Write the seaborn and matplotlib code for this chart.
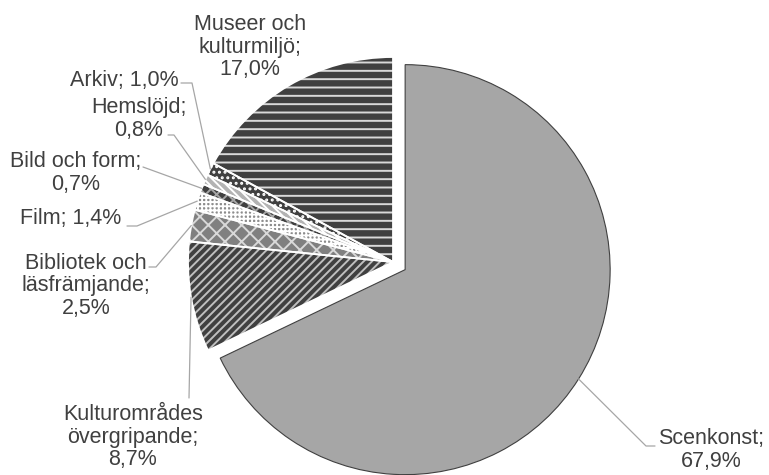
import numpy as np
import matplotlib
matplotlib.use("Agg")
import matplotlib.pyplot as plt
import matplotlib.patches as mpatches
import seaborn as sns

# data (shares in percent, clockwise from 12 o'clock)
categories = ["Scenkonst", "Kulturområdes\növergripande", "Bibliotek och\nläsfrämjande",
              "Film", "Bild och form", "Hemslöjd", "Arkiv", "Museer och\nkulturmiljö"]
shares = [67.9, 8.7, 2.5, 1.4, 0.7, 0.8, 1.0, 17.0]
value_labels = ["67,9%", "8,7%", "2,5%", "1,4%", "0,7%", "0,8%", "1,0%", "17,0%"]

# styling: face colour, hatch, hatch colour
faces = ["#a6a6a6", "#404040", "#808080", "#8c8c8c", "#404040", "#b3b3b3", "#404040", "#404040"]
hatches = [None, "////", "xx", "++++", "xxx", "\\\\\\\\", "...", "--"]
hatch_cols = [None, "#bfbfbf", "#d9d9d9", "#ffffff", "#a6a6a6", "#ffffff", "#ffffff", "#d9d9d9"]
explode = [0.07, 0, 0, 0, 0, 0, 0, 0]

sns.set_theme(style="white")
plt.rcParams["font.family"] = ["Liberation Sans", "DejaVu Sans"]
plt.rcParams["hatch.linewidth"] = 1.4

W, H = 769, 475
CX, CY, R = 393, 262, 205  # pie centre / radius in pixels


def px(x, y):
    return (x - CX) / R, (CY - y) / R


fig = plt.figure(figsize=(W / 100, H / 100), dpi=100)
ax = fig.add_axes([0, 0, 1, 1])

wedges, _ = ax.pie(shares, explode=explode, startangle=90, counterclock=False,
                   colors=faces, radius=1)

for i, w in enumerate(wedges):
    if hatches[i] is None:
        w.set_edgecolor("#404040")
        w.set_linewidth(0.8)
    else:
        w.set_hatch(hatches[i])
        w.set_edgecolor(hatch_cols[i])
        w.set_linewidth(0)
        ax.add_patch(mpatches.Wedge(w.center, w.r, w.theta1, w.theta2,
                                    fill=False, edgecolor="white", lw=1.3))

ax.set_xlim(px(0, 0)[0], px(W, 0)[0])
ax.set_ylim(px(0, H)[1], px(0, 0)[1])
ax.set_aspect("auto")
ax.axis("off")

txt = dict(fontsize=15.5, color="#404040", linespacing=1.12)
lead = dict(color="#a6a6a6", lw=0.9)


def wedge_point(i, r=1.0):
    w = wedges[i]
    a = np.deg2rad((w.theta1 + w.theta2) / 2)
    return w.center[0] + r * np.cos(a), w.center[1] + r * np.sin(a)


# label text positions (pixels) and leader start/elbow
layout = {
    0: ((711, 450), (655, 446), (646, 446)),
    1: ((133, 437), (189, 398), (189, 398)),
    2: ((86, 286), (149, 267), (156, 267)),
    3: ((71, 218), (127, 226), (137, 226)),
    4: ((76, 173), (143, 167), (143, 167)),
    5: ((139, 119), (168, 135), (174, 135)),
    6: ((124, 80), (181, 83), (192, 83)),
    7: ((250, 47), None, None),
}

for i, (pos, start, elbow) in layout.items():
    name = categories[i]
    if i in (3, 6):
        label = f"{name}; {value_labels[i]}"
    else:
        label = f"{name};\n{value_labels[i]}"
    ax.text(*px(*pos), label, ha="center", va="center", **txt)
    if start is not None:
        end = wedge_point(i)
        xs = [px(*start)[0], px(*elbow)[0], end[0]]
        ys = [px(*start)[1], px(*elbow)[1], end[1]]
        ax.plot(xs, ys, **lead)

fig.savefig("out.png", dpi=100)
